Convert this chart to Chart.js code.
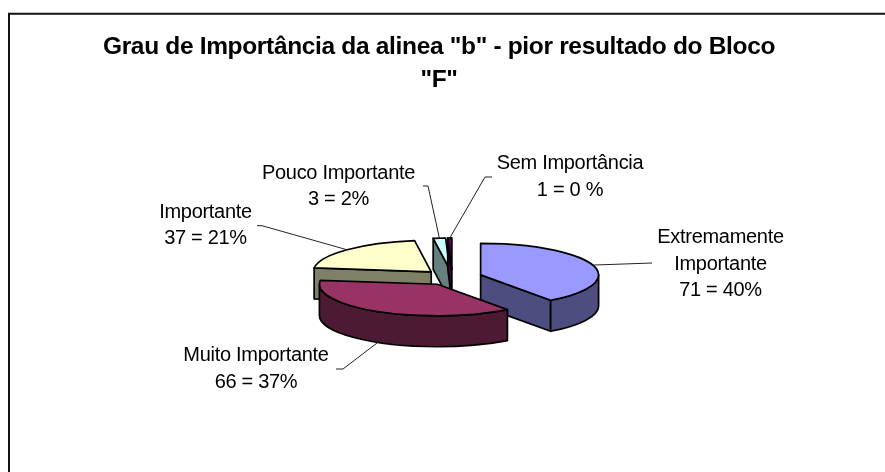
<!DOCTYPE html>
<html>
<head>
<meta charset="utf-8">
<style>html,body{margin:0;padding:0;background:#fff}canvas{display:block}</style>
<script src="https://cdn.jsdelivr.net/npm/chart.js@4"></script>
</head>
<body>
<canvas id="c" width="885" height="472"></canvas>
<script>
const titleLines = ['Grau de Importância da alinea "b" - pior resultado do Bloco', '"F"'];
const categories = ['Extremamente Importante', 'Muito Importante', 'Importante', 'Pouco Importante', 'Sem Importância'];
const values = [71, 66, 37, 3, 1];
const percentLabels = ['40%', '37%', '21%', '2%', '0 %'];
const topColors = ['#9999FF', '#993366', '#FFFFCC', '#CCFFFF', '#660066'];
const sideColors = ['#4D4D80', '#4D1A33', '#808066', '#668080', '#330033'];
const paintOrder = [2, 3, 4, 0, 1];

const SQUASH = 0.267, DEPTH = 31, EXPLODE = 29.7, OUTLINE = 1.7;
const LABEL_FONT = '20px "Liberation Sans", Arial, sans-serif';
const LABEL_SPACING = '-0.3px', TITLE_SPACING = '-0.33px';
const labelLayout = [
  {lines: ['Extremamente', 'Importante'], x: 720.5, y: 243, step: 26.5, path: [[652, 263]]},
  {lines: ['Muito Importante'], x: 256, y: 361, step: 27, path: [[336, 369], [343, 369]]},
  {lines: ['Importante'], x: 205.5, y: 218, step: 26, path: [[257, 225.7], [262, 225.7]]},
  {lines: ['Pouco Importante'], x: 338.5, y: 179, step: 26, path: [[423, 186], [428, 186]]},
  {lines: ['Sem Importância'], x: 570, y: 169, step: 27, path: [[492, 177], [485, 177]]}
];

function geom(arc) {
  const p = arc.getProps(['x', 'y', 'startAngle', 'endAngle', 'outerRadius'], true);
  const m = (p.startAngle + p.endAngle) / 2;
  return {s: p.startAngle, e: p.endAngle, m, r: p.outerRadius, ax: p.x, ay: p.y,
    x: p.x + EXPLODE * Math.cos(m), y: p.y + EXPLODE * Math.sin(m) * SQUASH, ry: p.outerRadius * SQUASH};
}
function rim(g, a) { return [g.x + g.r * Math.cos(a), g.y + g.ry * Math.sin(a)]; }
function paintFace(ctx, fill, build) {
  ctx.beginPath(); build(); ctx.closePath();
  if (fill) { ctx.fillStyle = fill; ctx.fill(); }
  ctx.lineWidth = OUTLINE; ctx.strokeStyle = '#000'; ctx.lineJoin = 'round'; ctx.stroke();
}
function cutFace(ctx, g, a, color) {
  const q = rim(g, a);
  paintFace(ctx, color, () => {
    ctx.moveTo(g.x, g.y); ctx.lineTo(q[0], q[1]); ctx.lineTo(q[0], q[1] + DEPTH); ctx.lineTo(g.x, g.y + DEPTH);
  });
}

const pie3d = {
  id: 'pie3d',
  beforeDraw(chart) {
    const ctx = chart.ctx;
    ctx.letterSpacing = TITLE_SPACING;
    ctx.save();
    ctx.strokeStyle = '#111'; ctx.lineWidth = 2;
    ctx.beginPath(); ctx.moveTo(9, 472); ctx.lineTo(9, 13.7); ctx.lineTo(885, 13.7); ctx.stroke();
    ctx.restore();
  },
  afterLayout(chart) {
    chart.titleBlock.left = 0; chart.titleBlock.right = 878;
  },
  beforeDatasetDraw(chart, args) {
    const ctx = chart.ctx;
    const arcs = args.meta.data;
    paintOrder.forEach(i => {
      const arc = arcs[i], g = geom(arc), side = sideColors[i];
      if (Math.cos(g.s) < -1e-6) cutFace(ctx, g, g.s, side);
      if (Math.cos(g.e) > 1e-6) cutFace(ctx, g, g.e, side);
      const a0 = Math.max(g.s, 0), a1 = Math.min(g.e, Math.PI);
      if (a1 > a0) paintFace(ctx, side, () => {
        ctx.ellipse(g.x, g.y, g.r, g.ry, 0, a0, a1);
        ctx.ellipse(g.x, g.y + DEPTH, g.r, g.ry, 0, a1, a0, true);
      });
      ctx.save();
      ctx.translate(g.x, g.y); ctx.scale(1, SQUASH); ctx.translate(-g.ax, -g.ay);
      arc.draw(ctx);
      ctx.restore();
      paintFace(ctx, null, () => {
        ctx.moveTo(g.x, g.y);
        ctx.ellipse(g.x, g.y, g.r, g.ry, 0, g.s, g.e);
      });
    });
    return false;
  },
  afterDraw(chart) {
    const ctx = chart.ctx, arcs = chart.getDatasetMeta(0).data;
    ctx.save();
    ctx.font = LABEL_FONT; ctx.letterSpacing = LABEL_SPACING;
    ctx.textAlign = 'center'; ctx.textBaseline = 'alphabetic'; ctx.fillStyle = '#000';
    labelLayout.forEach((l, i) => {
      const g = geom(arcs[i]);
      const end = rim(g, g.m);
      if (Math.sin(g.m) > 0.5) end[1] += DEPTH;
      ctx.beginPath(); ctx.lineWidth = 1; ctx.strokeStyle = '#222';
      l.path.forEach((pt, k) => k ? ctx.lineTo(pt[0], pt[1]) : ctx.moveTo(pt[0], pt[1]));
      ctx.lineTo(end[0], end[1]); ctx.stroke();
      const text = l.lines.concat([values[i] + ' = ' + percentLabels[i]]);
      text.forEach((t, k) => ctx.fillText(t, l.x, l.y + k * l.step));
    });
    ctx.restore();
  }
};

new Chart(document.getElementById('c'), {
  type: 'pie',
  data: {
    labels: categories,
    datasets: [{data: values, backgroundColor: topColors, borderWidth: 0, radius: 118, offset: 0}]
  },
  options: {
    responsive: false, animation: false,
    layout: {padding: {left: 20, right: 0.2, top: 0, bottom: 14.2}},
    plugins: {
      legend: {display: false},
      tooltip: {enabled: false},
      title: {
        display: true, text: titleLines, color: '#000',
        font: {family: '"Liberation Sans", Arial, sans-serif', size: 24.5, weight: 'bold', lineHeight: 33 / 24.5},
        padding: {top: 31, bottom: 0}
      }
    }
  },
  plugins: [pie3d]
});
</script>
</body>
</html>
